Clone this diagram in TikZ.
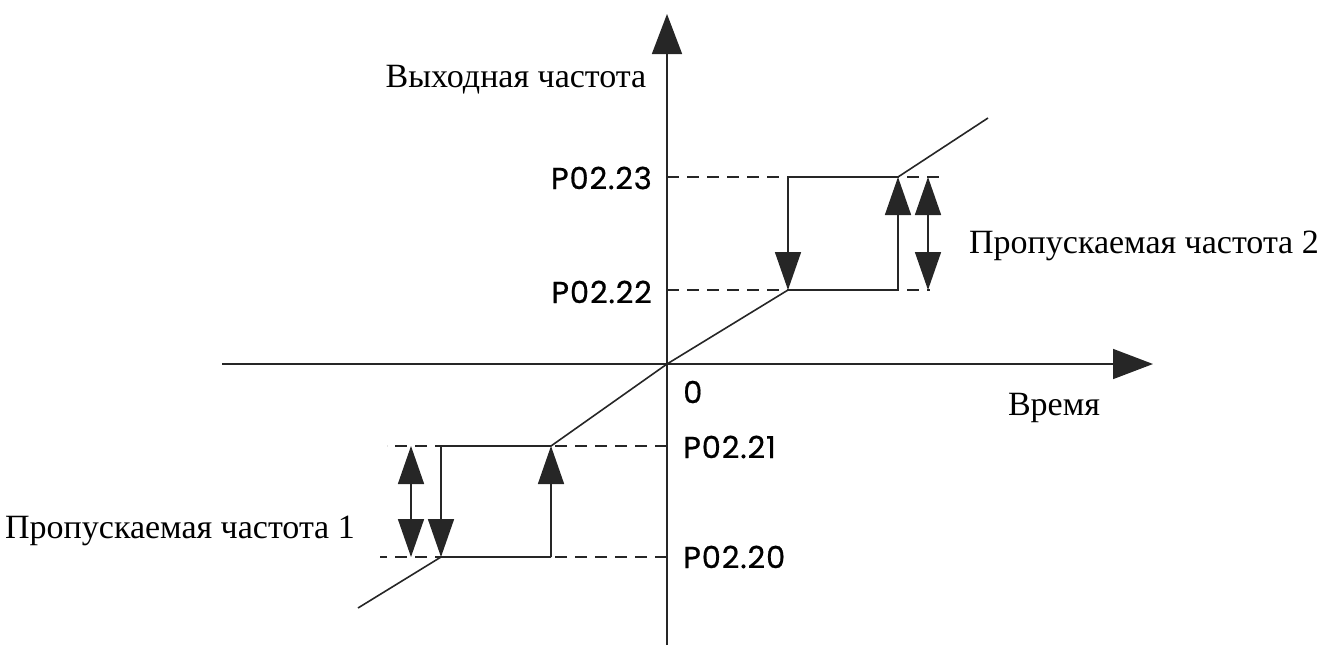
\documentclass[tikz,border=0pt]{standalone}
\usepackage{fontspec}
\setmainfont{Liberation Serif}
\newfontfamily\labfont{Poppins}[LetterSpace=3, FakeBold=0.6]
\usetikzlibrary{arrows.meta}
\tikzset{
  ln/.style={line width=1.6pt, draw=black!85},
  dsh/.style={line width=1.4pt, draw=black!85, dash pattern=on 12pt off 8pt},
  tipend/.style={ln, -{Triangle[length=38pt,width=26pt]}},
  tipboth/.style={ln, {Triangle[length=38pt,width=26pt]}-{Triangle[length=38pt,width=26pt]}},
  axis/.style={ln, -{Triangle[length=40pt,width=30pt]}},
  serif/.style={font=\fontsize{34}{38}\selectfont, inner sep=0pt},
  lab/.style={font=\labfont\fontsize{30.5}{34}\selectfont, inner sep=0pt},
}
\begin{document}
\begin{tikzpicture}[x=1pt,y=-1pt]
\useasboundingbox (0,0) rectangle (1317,646);
% coordinates
\coordinate (O) at (667,364);
\coordinate (ybot) at (667,645);
\coordinate (ytop) at (667,14);
\coordinate (xl) at (222,364);
\coordinate (xr) at (1153,364);
% upper step
\coordinate (a1) at (788,290);
\coordinate (a2) at (898,290);
\coordinate (a3) at (898,177);
\coordinate (a4) at (788,177);
\coordinate (a5) at (988,118);
\coordinate (d23) at (944,177);
\coordinate (d22) at (930,290);
\coordinate (u23) at (928,177);
\coordinate (u22) at (928,290);
% lower step
\coordinate (b1) at (551,446);
\coordinate (b2) at (441,446);
\coordinate (b3) at (441,557);
\coordinate (b4) at (551,557);
\coordinate (b5) at (358,608);
\coordinate (d21) at (387,446);
\coordinate (d20) at (380,557);
\coordinate (l21) at (411,446);
\coordinate (l20) at (411,557);
\coordinate (y23) at (667,177);
\coordinate (y22) at (667,290);
\coordinate (y21) at (667,446);
\coordinate (y20) at (667,557);
% axes
\draw[axis] (ybot) -- (ytop);
\draw[axis] (xl) -- (xr);
% dashed
\draw[dsh] (y23) -- (d23);
\draw[dsh] (y22) -- (d22);
\draw[dsh] (y21) -- (d21);
\draw[dsh] (y20) -- (d20);
% characteristic
\draw[ln] (O) -- (a1) -- (a2);
\draw[ln] (a4) -- (a3) -- (a5);
\draw[ln] (O) -- (b1) -- (b2);
\draw[ln] (b4) -- (b3) -- (b5);
% arrows
\draw[tipend] (a4) -- (a1);
\draw[tipend] (a2) -- (a3);
\draw[tipboth] (u23) -- (u22);
\draw[tipend] (b4) -- (b1);
\draw[tipend] (b2) -- (b3);
\draw[tipboth] (l21) -- (l20);
% texts
\node[serif] (ylab) at (516,80) {Выходная частота};
\node[serif] (s2) at (1144,246) {Пропускаемая частота 2};
\node[serif] (s1) at (180,531) {Пропускаемая частота 1};
\node[serif] (tl) at (1054,408) {Время};
\node[lab, anchor=east] (p23) at (652,178) {P02.23};
\node[lab, anchor=east] (p22) at (652,292) {P02.22};
\node[lab, anchor=west] (p21) at (683,447) {P02.21};
\node[lab, anchor=west] (p20) at (683,557) {P02.20};
\node[lab, anchor=west] (z) at (683,392) {0};
\end{tikzpicture}
\end{document}
